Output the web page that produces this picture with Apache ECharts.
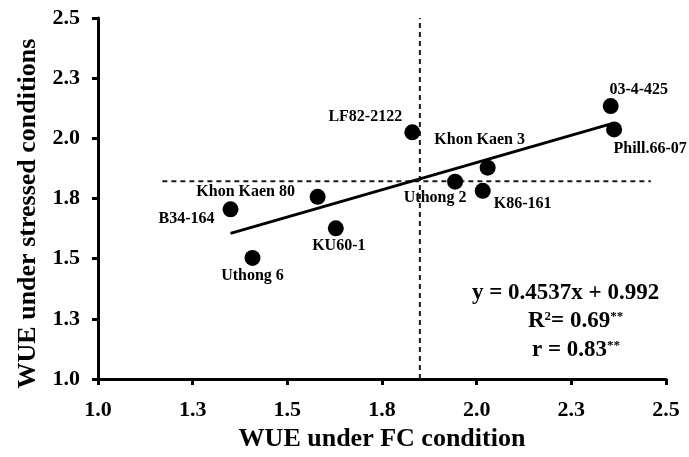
<!DOCTYPE html>
<html>
<head>
<meta charset="utf-8">
<script src="https://cdn.jsdelivr.net/npm/echarts@6/dist/echarts.min.js"></script>
<style>html,body{margin:0;padding:0;background:#fff;}#c{width:689px;height:457px;}</style>
</head>
<body>
<div id="c"></div>
<script>
// Data
var names = ['B34-164','Khon Kaen 80','KU60-1','Uthong 6','LF82-2122','Uthong 2','K86-161','Khon Kaen 3','03-4-425','Phill.66-07'];
var wueFC = [1.350, 1.580, 1.628, 1.408, 1.830, 1.943, 2.016, 2.029, 2.354, 2.363];
var wueStress = [1.705, 1.757, 1.626, 1.503, 2.025, 1.820, 1.782, 1.878, 2.134, 2.037];
var regX = [1.35, 2.35];
var regY = [1.605, 2.058];
var meanX = 1.85;
var meanY = 1.822;
var hLineX = [1.17, 2.46];
var vLineY = [1.0, 2.5];
var ticks = [1.0, 1.25, 1.5, 1.75, 2.0, 2.25, 2.5];
var eqLines = ['y = 0.4537x + 0.992', 'R2= 0.69**', 'r = 0.83**'];

// label placement (style, not data)
var labelOffsets = {
  'B34-164': [-44, 10],
  'Khon Kaen 80': [-72, -5],
  'KU60-1': [3, 18],
  'Uthong 6': [0, 18],
  'LF82-2122': [-47, -15],
  'Uthong 2': [-20, 16],
  'K86-161': [40, 13],
  'Khon Kaen 3': [-8, -28],
  '03-4-425': [28, -16],
  'Phill.66-07': [36, 19]
};

var FONT = "'Liberation Serif','Times New Roman',serif";
var chart = echarts.init(document.getElementById('c'), null, {renderer: 'canvas'});

var pts = names.map(function (n, i) {
  return {
    name: n,
    value: [wueFC[i], wueStress[i]],
    label: {offset: labelOffsets[n]}
  };
});

var axisCommon = {
  type: 'value',
  min: ticks[0],
  max: ticks[ticks.length - 1],
  interval: 0.25,
  splitLine: {show: false},
  axisLine: {show: true, onZero: false, lineStyle: {color: '#000', width: 3}},
  axisTick: {show: true, inside: false, length: 6, lineStyle: {color: '#000', width: 3}},
  axisLabel: {
    color: '#000', fontFamily: FONT, fontWeight: 'bold', fontSize: 22,
    formatter: function (v) { return v.toFixed(1); }
  },
  nameLocation: 'middle',
  nameTextStyle: {color: '#000', fontFamily: FONT, fontWeight: 'bold', fontSize: 26}
};

var option = {
  animation: false,
  backgroundColor: '#fff',
  grid: {left: 98, right: 23, top: 18, bottom: 78, containLabel: false},
  xAxis: Object.assign({}, axisCommon, {
    name: 'WUE under FC condition',
    nameGap: 47,
    axisLabel: Object.assign({}, axisCommon.axisLabel, {margin: 20})
  }),
  yAxis: Object.assign({}, axisCommon, {
    name: 'WUE under stressed conditions',
    nameGap: 56,
    axisLabel: Object.assign({}, axisCommon.axisLabel, {margin: 18}),
    nameTextStyle: Object.assign({}, axisCommon.nameTextStyle, {padding: [0, 30, 0, 0]})
  }),
  series: [
    {
      type: 'line',
      data: [[hLineX[0], meanY], [hLineX[1], meanY]],
      showSymbol: false, symbol: 'none',
      lineStyle: {color: '#1a1a1a', width: 2, type: [5, 4]},
      z: 1, silent: true
    },
    {
      type: 'line',
      data: [[meanX, vLineY[0]], [meanX, vLineY[1]]],
      showSymbol: false, symbol: 'none',
      lineStyle: {color: '#1a1a1a', width: 2, type: [5, 4]},
      z: 1, silent: true
    },
    {
      type: 'line',
      data: [[regX[0], regY[0]], [regX[1], regY[1]]],
      showSymbol: false, symbol: 'none',
      lineStyle: {color: '#000', width: 3},
      z: 2, silent: true
    },
    {
      type: 'scatter',
      data: pts,
      symbol: 'circle',
      symbolSize: 16,
      itemStyle: {color: '#000', opacity: 1},
      label: {
        show: true,
        position: 'inside',
        formatter: '{b}',
        color: '#000',
        fontFamily: FONT,
        fontWeight: 'bold',
        fontSize: 16
      },
      z: 3
    }
  ],
  graphic: [
    {
      type: 'text', left: 472, top: 282,
      style: {text: eqLines[0], fill: '#000', font: 'bold 23px ' + FONT}
    },
    {
      type: 'text', left: 528, top: 310,
      style: {
        text: '{a|R}{s|2}{a|= 0.69}{s|**}',
        rich: {
          a: {fill: '#000', font: 'bold 23px ' + FONT, verticalAlign: 'bottom'},
          s: {fill: '#000', font: 'bold 13px ' + FONT, verticalAlign: 'top', padding: [0, 0, 10, 0]}
        }
      }
    },
    {
      type: 'text', left: 532, top: 339,
      style: {
        text: '{a|r = 0.83}{s|**}',
        rich: {
          a: {fill: '#000', font: 'bold 23px ' + FONT, verticalAlign: 'bottom'},
          s: {fill: '#000', font: 'bold 13px ' + FONT, verticalAlign: 'top', padding: [0, 0, 10, 0]}
        }
      }
    }
  ]
};
chart.setOption(option);
</script>
</body>
</html>
